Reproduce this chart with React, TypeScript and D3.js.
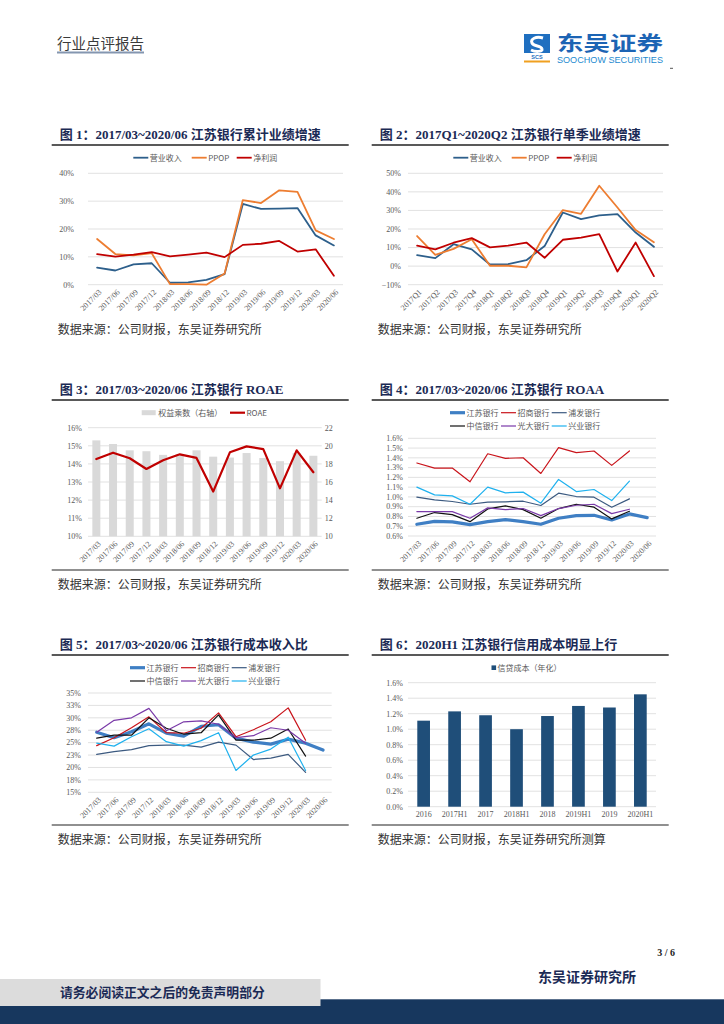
import React from 'react';
import * as d3 from 'd3';

// 横轴类别
const months = ['2017/03', '2017/06', '2017/09', '2017/12', '2018/03', '2018/06', '2018/09', '2018/12', '2019/03', '2019/06', '2019/09', '2019/12', '2020/03', '2020/06'];
const seasons = ['2017Q1', '2017Q2', '2017Q3', '2017Q4', '2018Q1', '2018Q2', '2018Q3', '2018Q4', '2019Q1', '2019Q2', '2019Q3', '2019Q4', '2020Q1', '2020Q2'];
const halfYears = ['2016', '2017H1', '2017', '2018H1', '2018', '2019H1', '2019', '2020H1'];

// 图1 累计业绩增速 (%)
const cumRevenue = [6.1, 5.1, 7.3, 7.7, 0.7, 0.8, 1.7, 3.8, 29.0, 27.2, 27.3, 27.5, 17.7, 14.1];
const cumPpop = [16.4, 11.0, 10.5, 11.3, 0.2, 0.2, 0.0, 4.0, 30.4, 29.3, 33.9, 33.3, 19.5, 16.4];
const cumProfit = [11.0, 10.1, 10.8, 11.7, 10.2, 10.8, 11.5, 9.9, 14.3, 14.7, 15.7, 11.9, 12.7, 3.2];

// 图2 单季业绩增速 (%)
const qRevenue = [5.9, 4.3, 11.8, 9.0, 0.9, 1.1, 3.2, 10.8, 28.9, 25.3, 27.3, 28.0, 18.1, 10.4];
const qPpop = [16.2, 6.1, 9.3, 14.5, 0.2, 0.2, -0.7, 17.2, 30.2, 28.2, 43.3, 31.6, 19.4, 12.9];
const qProfit = [11.0, 9.0, 12.6, 15.1, 10.1, 11.1, 12.7, 4.5, 14.2, 15.3, 17.2, -2.9, 12.7, -5.4];

// 图3 ROAE (%) 与权益乘数
const equityMultiplier = [20.6, 20.2, 19.5, 19.4, 19.0, 19.05, 19.5, 18.8, 18.7, 19.2, 18.65, 18.3, 19.2, 18.9];
const roae = [14.27, 14.62, 14.31, 13.72, 14.2, 14.53, 14.33, 12.47, 14.64, 14.97, 14.82, 12.65, 14.75, 13.54];

// 图4 ROAA (%)
const roaaJs = [0.72, 0.75, 0.744, 0.716, 0.747, 0.768, 0.747, 0.72, 0.782, 0.809, 0.812, 0.764, 0.826, 0.788];
const roaaZs = [1.347, 1.295, 1.295, 1.155, 1.442, 1.395, 1.401, 1.24, 1.504, 1.453, 1.47, 1.323, 1.47, null];
const roaaPf = [0.997, 0.97, 0.953, 0.925, 0.946, 0.95, 0.956, 0.912, 1.038, 1.004, 0.997, 0.895, 0.98, null];
const roaaZx = [0.782, 0.84, 0.819, 0.747, 0.877, 0.908, 0.87, 0.782, 0.881, 0.925, 0.895, 0.775, 0.853, null];
const roaaGd = [0.85, 0.85, 0.85, 0.782, 0.888, 0.87, 0.881, 0.809, 0.881, 0.915, 0.925, 0.829, 0.874, null];
const roaaXy = [1.1, 1.021, 1.011, 0.925, 1.1, 1.042, 1.049, 0.936, 1.179, 1.055, 1.076, 0.963, 1.162, null];

// 图5 成本收入比 (%)
const ciJs = [27.1, 26.0, 27.2, 28.8, 26.9, 26.3, 28.3, 28.6, 25.9, 25.1, 24.7, 25.7, 24.9, 23.5];
const ciZs = [24.4, 26.0, 28.0, 30.2, 27.0, 26.9, 27.9, 31.0, 26.2, 27.6, 29.2, 32.0, 25.5, null];
const ciPf = [22.65, 23.2, 23.6, 24.4, 24.5, 24.5, 24.1, 25.1, 24.5, 21.6, 21.9, 22.65, 19.0, null];
const ciZx = [25.9, 26.5, 26.5, 30.0, 27.9, 26.7, 27.0, 30.6, 25.5, 25.5, 25.9, 27.75, 22.3, null];
const ciGd = [27.1, 29.5, 30.0, 31.9, 27.4, 29.2, 29.4, 28.7, 26.0, 26.4, 28.0, 27.5, 24.9, null];
const ciXy = [24.9, 24.3, 26.2, 27.8, 25.2, 24.3, 25.4, 27.0, 19.4, 22.5, 23.7, 26.1, 19.4, null];

// 图6 信贷成本 (%)
const creditCost = [1.11, 1.23, 1.18, 1.0, 1.17, 1.30, 1.28, 1.45];

// 刻度
const ticks1 = [0, 10, 20, 30, 40];
const ticks2 = [-10, 0, 10, 20, 30, 40, 50];
const ticks3L = [10, 11, 12, 13, 14, 15, 16];
const ticks3R = [10, 12, 14, 16, 18, 20, 22];
const ticks4 = [0.6, 0.7, 0.8, 0.9, 1.0, 1.1, 1.2, 1.3, 1.4, 1.5, 1.6];
const ticks5 = [15, 17.5, 20, 22.5, 25, 27.5, 30, 32.5, 35];
const ticks5Labels = ['15%', '18%', '20%', '23%', '25%', '28%', '30%', '33%', '35%'];
const ticks6 = [0, 0.2, 0.4, 0.6, 0.8, 1.0, 1.2, 1.4, 1.6];

const SERIF = '"Liberation Serif", "Times New Roman", "Noto Sans CJK SC", serif';
const SANS = '"Noto Sans CJK SC", "Liberation Sans", sans-serif';
const NAVY = '#1b2a55';
const GRID = '#d9d9d9';
const TXT = '#595959';

type Series = { name: string; values: (number | null)[]; color: string; width: number };
type LegendItem = { x: number; y: number; label: string; color: string; width: number; kind?: 'line' | 'rect' | 'square' };

const pct0 = (v: number) => `${d3.format('.0f')(v)}%`;
const pct1 = (v: number) => `${d3.format('.1f')(v)}%`;

function Legend({ items }: { items: LegendItem[] }) {
  return (
    <g>
      {items.map((it) => (
        <g key={it.label}>
          {it.kind === 'rect' ? (
            <rect x={it.x} y={it.y - 2.5} width={14} height={5} fill={it.color} />
          ) : it.kind === 'square' ? (
            <rect x={it.x} y={it.y - 2.3} width={4.6} height={4.6} fill={it.color} />
          ) : (
            <line x1={it.x} x2={it.x + 15} y1={it.y} y2={it.y} stroke={it.color} strokeWidth={it.width} />
          )}
          <text
            x={it.x + (it.kind === 'square' ? 6 : 16.5)}
            y={it.y}
            dy="0.35em"
            fontFamily={SANS}
            fontSize={8}
            fill={TXT}
          >
            {it.label}
          </text>
        </g>
      ))}
    </g>
  );
}

interface PanelProps {
  cats: string[];
  left: number;
  right: number;
  top: number;
  bottom: number;
  domain: [number, number];
  ticks: number[];
  tickLabels: string[];
  labelGap: number;
  series: Series[];
  bars?: { values: number[]; domain: [number, number]; ticks: number[]; color: string };
}

function LinePanel({ cats, left, right, top, bottom, domain, ticks, tickLabels, labelGap, series, bars }: PanelProps) {
  const x = d3.scaleBand().domain(cats).range([left, right]);
  const y = d3.scaleLinear().domain(domain).range([bottom, top]);
  const cx = (i: number) => (x(cats[i]) as number) + x.bandwidth() / 2;
  const line = d3
    .line<number | null>()
    .defined((d) => d != null)
    .x((_, i) => cx(i))
    .y((d) => y(d as number));

  const yR = bars ? d3.scaleLinear().domain(bars.domain).range([bottom, top]) : null;
  const barW = x.bandwidth() * 0.48;

  return (
    <g>
      {ticks.map((t, i) => (
        <g key={t}>
          <line x1={left} x2={right} y1={y(t)} y2={y(t)} stroke={GRID} strokeWidth={0.8} />
          <text x={left - labelGap} y={y(t)} dy="0.35em" textAnchor="end" fontFamily={SERIF} fontSize={8} fill={TXT}>
            {tickLabels[i]}
          </text>
        </g>
      ))}
      {bars && yR && (
        <g>
          {bars.values.map((v, i) => (
            <rect key={i} x={cx(i) - barW / 2} y={yR(v)} width={barW} height={bottom - yR(v)} fill={bars.color} />
          ))}
          {bars.ticks.map((t) => (
            <text key={t} x={right + 3} y={yR(t)} dy="0.35em" fontFamily={SERIF} fontSize={8} fill={TXT}>
              {t}
            </text>
          ))}
        </g>
      )}
      {series.map((s) => (
        <path
          key={s.name}
          d={line(s.values) || ''}
          fill="none"
          stroke={s.color}
          strokeWidth={s.width}
          strokeLinejoin="round"
          strokeLinecap="round"
        />
      ))}
      {cats.map((c, i) => (
        <text
          key={c}
          transform={`translate(${cx(i) + 3},${bottom + 6}) rotate(-45)`}
          textAnchor="end"
          dy="0.35em"
          fontFamily={SERIF}
          fontSize={8}
          fill={TXT}
        >
          {c}
        </text>
      ))}
    </g>
  );
}

function BarPanel() {
  const left = 408, right = 656, top = 682.7, bottom = 806.7;
  const x = d3.scaleBand().domain(halfYears).range([left, right]).paddingInner(0.59).paddingOuter(0.3);
  const y = d3.scaleLinear().domain([0, 1.6]).range([bottom, top]);
  return (
    <g>
      {ticks6.map((t) => (
        <g key={t}>
          <line x1={left} x2={right} y1={y(t)} y2={y(t)} stroke={GRID} strokeWidth={0.8} />
          <text x={left - 5} y={y(t)} dy="0.35em" textAnchor="end" fontFamily={SERIF} fontSize={8} fill={TXT}>
            {pct1(t)}
          </text>
        </g>
      ))}
      {creditCost.map((v, i) => (
        <rect key={i} x={x(halfYears[i])} y={y(v)} width={x.bandwidth()} height={bottom - y(v)} fill="#1f4e79" />
      ))}
      {halfYears.map((c) => (
        <text key={c} x={(x(c) as number) + x.bandwidth() / 2} y={bottom + 10} textAnchor="middle" fontFamily={SERIF} fontSize={8} fill={TXT}>
          {c}
        </text>
      ))}
    </g>
  );
}

function Frame({ x, yTitle, yRule, yBottom, yNote, title, note }: { x: number; yTitle: number; yRule: number; yBottom: number | null; yNote: number; title: string; note: string }) {
  return (
    <g>
      <text x={x + 8} y={yTitle} dy="0.35em" fontFamily={SERIF} fontWeight="bold" fontSize={13} fill={NAVY}>
        {title}
      </text>
      <line x1={x} x2={x + 297} y1={yRule} y2={yRule} stroke="#222" strokeWidth={1.4} />
      {yBottom != null && <line x1={x} x2={x + 297} y1={yBottom} y2={yBottom} stroke="#222" strokeWidth={1.2} />}
      <text x={x + 6} y={yNote} dy="0.35em" fontFamily={SERIF} fontSize={12} fill="#333">
        {note}
      </text>
    </g>
  );
}

const NOTE = '数据来源：公司财报，东吴证券研究所';

export default function App() {
  const bankLegend = (x0: number, y0: number): LegendItem[] => [
    { x: x0, y: y0, label: '江苏银行', color: '#3f7fc4', width: 3.2 },
    { x: x0 + 51, y: y0, label: '招商银行', color: '#c9141b', width: 1.2 },
    { x: x0 + 101.7, y: y0, label: '浦发银行', color: '#3c5a80', width: 1.2 },
    { x: x0, y: y0 + 13.3, label: '中信银行', color: '#111', width: 1.2 },
    { x: x0 + 51, y: y0 + 13.3, label: '光大银行', color: '#7a3aa8', width: 1.2 },
    { x: x0 + 101.7, y: y0 + 13.3, label: '兴业银行', color: '#1fb1ee', width: 1.2 },
  ];
  const bankSeries = (js: (number | null)[], zs: (number | null)[], pf: (number | null)[], zx: (number | null)[], gd: (number | null)[], xy: (number | null)[]): Series[] => [
    { name: '江苏银行', values: js, color: '#3f7fc4', width: 3.2 },
    { name: '招商银行', values: zs, color: '#c9141b', width: 1.2 },
    { name: '浦发银行', values: pf, color: '#3c5a80', width: 1.2 },
    { name: '中信银行', values: zx, color: '#111', width: 1.2 },
    { name: '光大银行', values: gd, color: '#7a3aa8', width: 1.2 },
    { name: '兴业银行', values: xy, color: '#1fb1ee', width: 1.2 },
  ];

  return (
    <svg width={724} height={1024} style={{ position: 'absolute', left: 0, top: 0, background: '#fff' }}>
      {/* 页眉 */}
      <text x={57} y={44} dy="0.35em" fontFamily={SERIF} fontSize={14.5} fill="#3a3a3a">行业点评报告</text>
      <line x1={57} x2={144} y1={52.5} y2={52.5} stroke="#8496b0" strokeWidth={1.8} />
      <g>
        <rect x={524} y={34} width={26} height={19} fill="#1f6fc0" />
        <path d="M543,38 C536,36 530,39 532,43 C534,47 541,45 542,49 C543,52 535,52 531,50" fill="none" stroke="#fff" strokeWidth={3} />
        <text x={537} y={58.5} textAnchor="middle" fontFamily='"Liberation Sans", sans-serif' fontWeight="bold" fontSize={5.5} fill="#1f6fc0">SCS</text>
        <rect x={524} y={60.5} width={26} height={2} fill="#f0a020" />
        <text x={557} y={51} fontFamily={SANS} fontWeight="bold" fontSize={20} fill="#1c64b4" textLength={106} lengthAdjust="spacingAndGlyphs">东吴证券</text>
        <text x={557} y={63} fontFamily='"Liberation Sans", sans-serif' fontSize={8.5} fill="#1c8ad0" textLength={106} lengthAdjust="spacingAndGlyphs">SOOCHOW SECURITIES</text>
        <line x1={670} x2={673} y1={68.3} y2={68.3} stroke="#555" strokeWidth={1} />
      </g>

      {/* 图1 */}
      <Frame x={51.7} yTitle={134.3} yRule={145} yBottom={null} yNote={330} title="图 1：2017/03~2020/06 江苏银行累计业绩增速" note={NOTE} />
      <Legend items={[
        { x: 133.3, y: 157.7, label: '营业收入', color: '#2d5f8b', width: 1.8 },
        { x: 191.7, y: 157.7, label: 'PPOP', color: '#ed7d31', width: 1.8 },
        { x: 236.7, y: 157.7, label: '净利润', color: '#c00000', width: 1.8 },
      ]} />
      <LinePanel cats={months} left={88} right={343} top={173.3} bottom={284.7} domain={[0, 40]} ticks={ticks1} tickLabels={ticks1.map(pct0)} labelGap={14}
        series={[
          { name: '营业收入', values: cumRevenue, color: '#2d5f8b', width: 1.8 },
          { name: 'PPOP', values: cumPpop, color: '#ed7d31', width: 1.8 },
          { name: '净利润', values: cumProfit, color: '#c00000', width: 1.8 },
        ]} />

      {/* 图2 */}
      <Frame x={371.7} yTitle={134.3} yRule={145} yBottom={null} yNote={330} title="图 2：2017Q1~2020Q2 江苏银行单季业绩增速" note={NOTE} />
      <Legend items={[
        { x: 453.3, y: 157.7, label: '营业收入', color: '#2d5f8b', width: 1.8 },
        { x: 511.7, y: 157.7, label: 'PPOP', color: '#ed7d31', width: 1.8 },
        { x: 556.7, y: 157.7, label: '净利润', color: '#c00000', width: 1.8 },
      ]} />
      <LinePanel cats={seasons} left={408} right={663} top={173.3} bottom={284.7} domain={[-10, 50]} ticks={ticks2} tickLabels={ticks2.map(pct0)} labelGap={7}
        series={[
          { name: '营业收入', values: qRevenue, color: '#2d5f8b', width: 1.8 },
          { name: 'PPOP', values: qPpop, color: '#ed7d31', width: 1.8 },
          { name: '净利润', values: qProfit, color: '#c00000', width: 1.8 },
        ]} />

      {/* 图3 */}
      <Frame x={51.7} yTitle={389.3} yRule={400} yBottom={570} yNote={585} title="图 3：2017/03~2020/06 江苏银行 ROAE" note={NOTE} />
      <Legend items={[
        { x: 141.7, y: 412.7, label: '权益乘数（右轴）', color: '#d9d9d9', width: 5, kind: 'rect' },
        { x: 230, y: 412.7, label: 'ROAE', color: '#c00000', width: 2.2 },
      ]} />
      <LinePanel cats={months} left={88} right={321.7} top={427.7} bottom={536.3} domain={[10, 16]} ticks={ticks3L} tickLabels={ticks3L.map(pct0)} labelGap={6}
        bars={{ values: equityMultiplier, domain: [10, 22], ticks: ticks3R, color: '#d9d9d9' }}
        series={[{ name: 'ROAE', values: roae, color: '#c00000', width: 2.2 }]} />

      {/* 图4 */}
      <Frame x={371.7} yTitle={389.3} yRule={400} yBottom={570} yNote={585} title="图 4：2017/03~2020/06 江苏银行 ROAA" note={NOTE} />
      <Legend items={bankLegend(450, 412.7)} />
      <LinePanel cats={months} left={408} right={656} top={438.3} bottom={536} domain={[0.6, 1.6]} ticks={ticks4} tickLabels={ticks4.map(pct1)} labelGap={5}
        series={bankSeries(roaaJs, roaaZs, roaaPf, roaaZx, roaaGd, roaaXy)} />

      {/* 图5 */}
      <Frame x={51.7} yTitle={644.3} yRule={655} yBottom={825} yNote={840} title="图 5：2017/03~2020/06 江苏银行成本收入比" note={NOTE} />
      <Legend items={bankLegend(130, 667.7)} />
      <LinePanel cats={months} left={88} right={331.7} top={693} bottom={792.3} domain={[15, 35]} ticks={ticks5} tickLabels={ticks5Labels} labelGap={7}
        series={bankSeries(ciJs, ciZs, ciPf, ciZx, ciGd, ciXy)} />

      {/* 图6 */}
      <Frame x={371.7} yTitle={644.3} yRule={655} yBottom={825} yNote={840} title="图 6：2020H1 江苏银行信用成本明显上行" note="数据来源：公司财报，东吴证券研究所测算" />
      <Legend items={[{ x: 491.5, y: 667.7, label: '信贷成本（年化）', color: '#1f4e79', width: 1, kind: 'square' }]} />
      <BarPanel />

      {/* 页脚 */}
      <text x={675} y={952.7} dy="0.35em" textAnchor="end" fontFamily={SERIF} fontWeight="bold" fontSize={10} fill="#222">3 / 6</text>
      <text x={538} y={976.7} dy="0.35em" fontFamily={SERIF} fontWeight="bold" fontSize={14} fill="#1b2a55">东吴证券研究所</text>
      <rect x={0} y={999.3} width={724} height={24.7} fill="#17375e" />
      <rect x={0} y={979} width={320.5} height={27} fill="#dcdcdc" />
      <text x={60} y={992.5} dy="0.35em" fontFamily={SERIF} fontWeight="bold" fontSize={12.8} fill="#1b2a55">请务必阅读正文之后的免责声明部分</text>
    </svg>
  );
}
